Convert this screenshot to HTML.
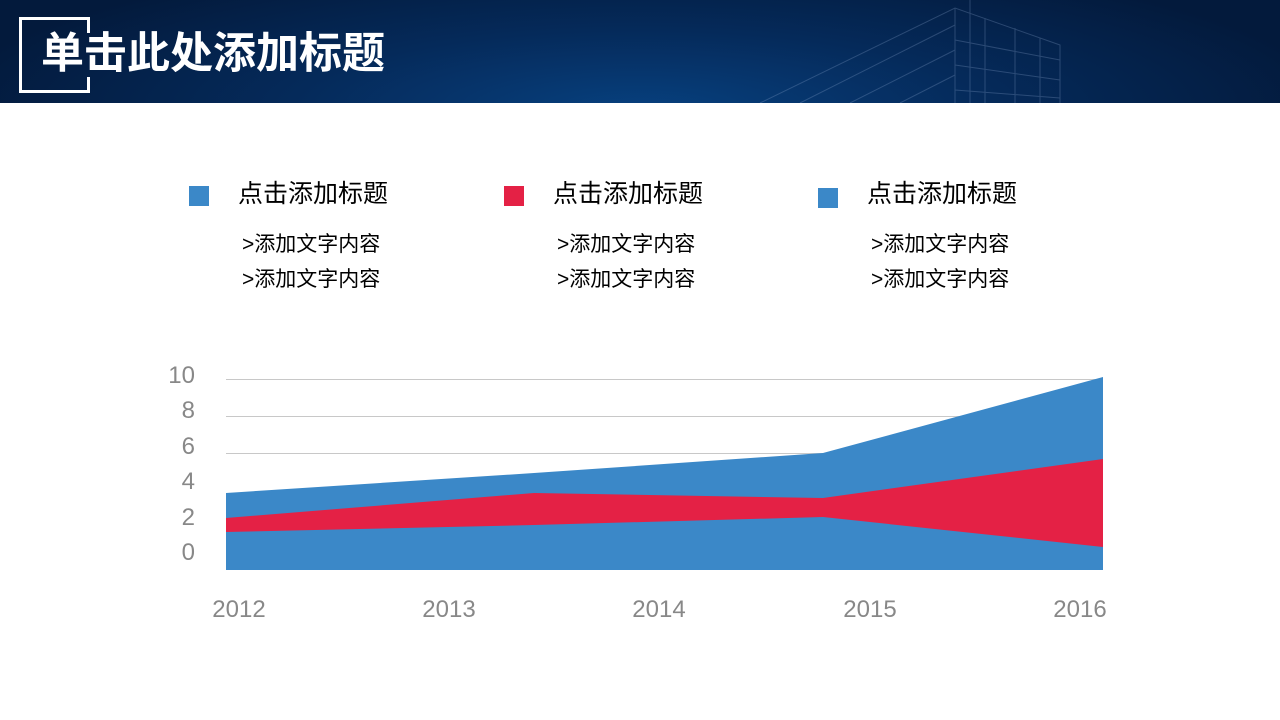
<!DOCTYPE html>
<html><head><meta charset="utf-8">
<style>
body{margin:0;width:1280px;height:720px;overflow:hidden;background:#fff;font-family:"Liberation Sans","Noto Sans CJK SC",sans-serif;position:relative}
.hdr{position:absolute;left:0;top:0;width:1280px;height:103px;background:radial-gradient(ellipse 700px 160px at 640px 110px,#07407e 0%,#052a5a 50%,#031a3c 100%)}
.fr{position:absolute;box-sizing:border-box}
.t{position:absolute;white-space:nowrap;color:#000}
.sq{position:absolute;width:20px;height:20px}
</style></head><body>
<div class="hdr">
<svg width="1280" height="103" style="position:absolute;left:0;top:0" stroke="#8fa9cf" stroke-opacity="0.28" fill="none" stroke-width="1">
<path d="M760 103 L955 8 L1060 45 L1060 103 M955 8 L955 103 M800 103 L955 25 M850 103 L955 50 M900 103 L955 75 M985 18 L985 103 M1015 28 L1015 103 M1040 38 L1040 103 M955 40 L1060 60 M955 65 L1060 80 M955 90 L1060 98 M970 0 L970 103"/>
</svg>
<div class="fr" style="left:19px;top:17px;width:71px;height:76px;border:3px solid #fff;border-right:none"></div>
<div class="fr" style="left:87px;top:17px;width:3px;height:16px;background:#fff"></div>
<div class="fr" style="left:87px;top:77px;width:3px;height:16px;background:#fff"></div>
<div class="t" style="left:41px;top:27px;font-size:43px;font-weight:bold;color:#fff;line-height:54px">单击此处添加标题</div>
</div>

<div class="sq" style="left:189px;top:186px;background:#3b88c8"></div>
<div class="t" style="left:238px;top:178px;font-size:25px;line-height:32px">点击添加标题</div>
<div class="t" style="left:242px;top:232px;font-size:21px;line-height:26px">&gt;添加文字内容</div>
<div class="t" style="left:242px;top:267px;font-size:21px;line-height:26px">&gt;添加文字内容</div>

<div class="sq" style="left:504px;top:186px;background:#e42145"></div>
<div class="t" style="left:553px;top:178px;font-size:25px;line-height:32px">点击添加标题</div>
<div class="t" style="left:557px;top:232px;font-size:21px;line-height:26px">&gt;添加文字内容</div>
<div class="t" style="left:557px;top:267px;font-size:21px;line-height:26px">&gt;添加文字内容</div>

<div class="sq" style="left:818px;top:188px;background:#3b88c8"></div>
<div class="t" style="left:867px;top:178px;font-size:25px;line-height:32px">点击添加标题</div>
<div class="t" style="left:871px;top:232px;font-size:21px;line-height:26px">&gt;添加文字内容</div>
<div class="t" style="left:871px;top:267px;font-size:21px;line-height:26px">&gt;添加文字内容</div>

<svg width="1280" height="720" style="position:absolute;left:0;top:0" font-family="Liberation Sans, sans-serif">
<g stroke="#c8c8c8" stroke-width="1">
<line x1="226" y1="379.5" x2="1103" y2="379.5"/>
<line x1="226" y1="416.5" x2="1103" y2="416.5"/>
<line x1="226" y1="453.5" x2="1103" y2="453.5"/>
</g>
<polygon fill="#3b88c8" points="226,493 534,473 823,453 1103,377 1103,570 226,570"/>
<polygon fill="#e42145" points="226,518 534,493 823,498 1103,459 1103,547 823,517 534,525 226,532"/>
<g fill="#888" font-size="24" text-anchor="end">
<text x="195" y="383">10</text>
<text x="195" y="418">8</text>
<text x="195" y="454">6</text>
<text x="195" y="489">4</text>
<text x="195" y="525">2</text>
<text x="195" y="560">0</text>
</g>
<g fill="#888" font-size="24" text-anchor="middle">
<text x="239" y="617">2012</text>
<text x="449" y="617">2013</text>
<text x="659" y="617">2014</text>
<text x="870" y="617">2015</text>
<text x="1080" y="617">2016</text>
</g>
</svg>
</body></html>
